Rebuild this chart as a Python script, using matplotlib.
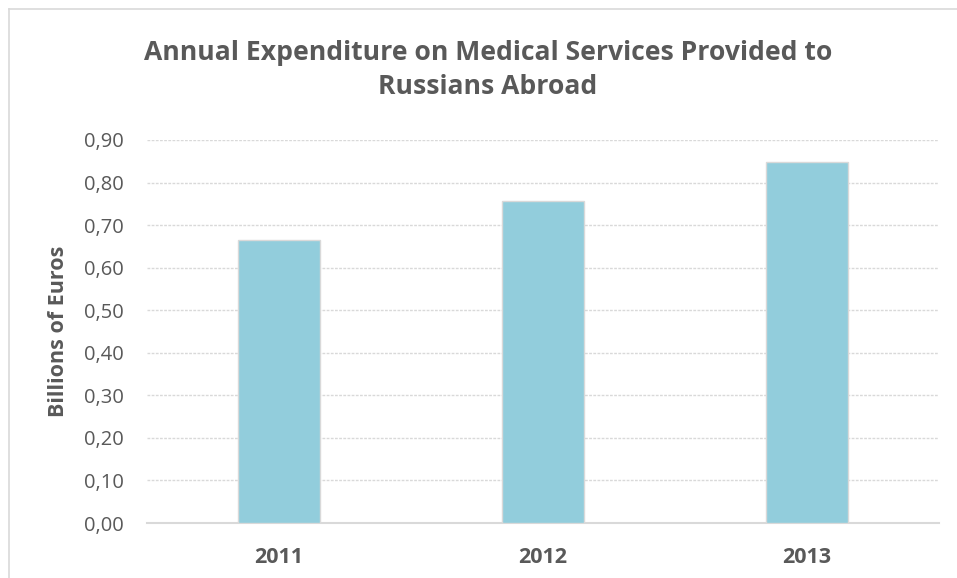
import matplotlib.pyplot as plt
from matplotlib.lines import Line2D

plt.rcParams['font.family'] = ['Open Sans', 'DejaVu Sans']

years = ["2011", "2012", "2013"]
spending = [0.665, 0.756, 0.849]  # miliardi di euro
y_ticks = [0.0, 0.1, 0.2, 0.3, 0.4, 0.5, 0.6, 0.7, 0.8, 0.9]
y_labels = ["0,00", "0,10", "0,20", "0,30", "0,40", "0,50", "0,60", "0,70", "0,80", "0,90"]

grey = "#595959"

fig = plt.figure(figsize=(9.57, 5.78), dpi=100)
ax = fig.add_axes([147 / 957, 1 - 523 / 578, 792 / 957, 383 / 578])

ax.bar(years, spending, width=0.31, color="#92CDDC", edgecolor="#D9D9D9", linewidth=1, zorder=3)

ax.set_xlim(-0.5, 2.5)
ax.set_ylim(0, 0.9)
ax.set_yticks(y_ticks)
ax.set_yticklabels(y_labels)
ax.grid(axis="y", color="#D9D9D9", linestyle=(0, (2, 1)), linewidth=1, zorder=0)

for s in ["top", "right", "left"]:
    ax.spines[s].set_visible(False)
ax.spines["bottom"].set_color("#D9D9D9")
ax.spines["bottom"].set_linewidth(1.5)

ax.tick_params(axis="both", length=0, colors=grey)
ax.tick_params(axis="y", labelsize=14.5, pad=17)
ax.tick_params(axis="x", labelsize=15.5, pad=17)
for lab in ax.get_xticklabels():
    lab.set_fontweight("bold")

ax.set_ylabel("Billions of Euros", fontsize=15.5, fontweight="bold", color=grey)
ax.yaxis.set_label_coords(69 / 957, 1 - 331 / 578, transform=fig.transFigure)

fig.text(488 / 957, 1 - 70 / 578, "Annual Expenditure on Medical Services Provided to\nRussians Abroad",
         ha="center", va="center", fontsize=19.1, fontweight="bold", color=grey, linespacing=1.45)

# bordo del grafico (solo sopra e a sinistra, come nell'originale)
fig.add_artist(Line2D([9 / 957, 1], [1 - 9 / 578, 1 - 9 / 578], color="#D9D9D9", linewidth=1.2, transform=fig.transFigure))
fig.add_artist(Line2D([9 / 957, 9 / 957], [0, 1 - 9 / 578], color="#D9D9D9", linewidth=1.2, transform=fig.transFigure))

plt.savefig("out.png", dpi=100)
